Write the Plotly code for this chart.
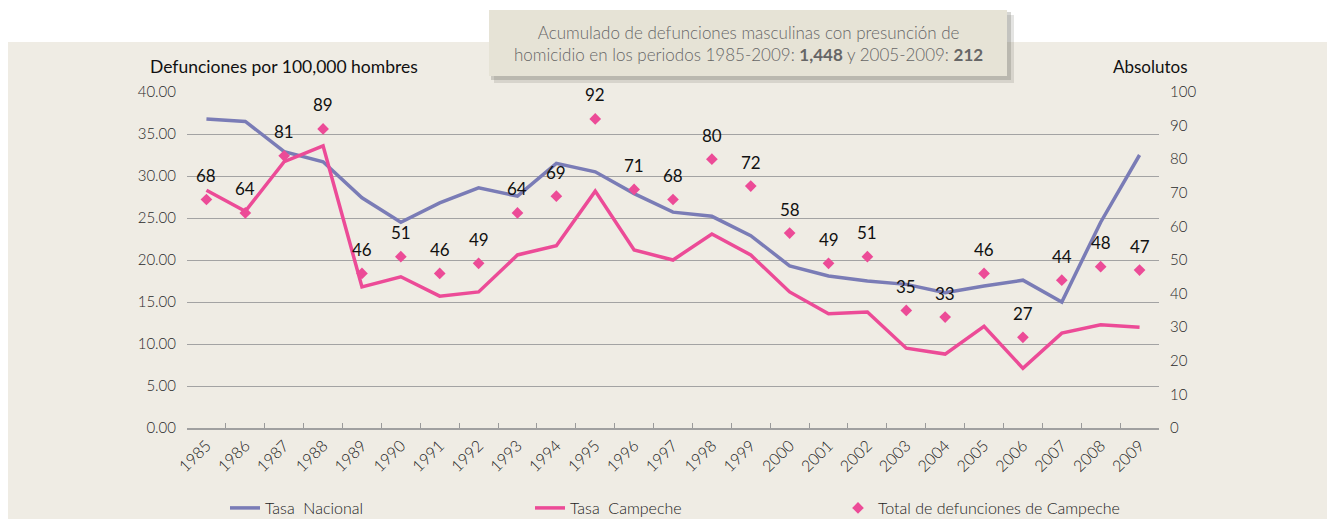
import plotly.graph_objects as go

years = [str(y) for y in range(1985, 2010)]
tasa_nacional = [36.8, 36.5, 32.9, 31.7, 27.4, 24.5, 26.8, 28.6, 27.6, 31.5, 30.5, 27.9, 25.7,
                 25.2, 22.9, 19.3, 18.1, 17.5, 17.1, 16.1, 16.9, 17.6, 15.0, 24.5, 32.5]
tasa_campeche = [28.3, 25.8, 31.7, 33.6, 16.8, 18.0, 15.7, 16.2, 20.6, 21.7, 28.2, 21.2, 20.0,
                 23.1, 20.6, 16.2, 13.6, 13.8, 9.5, 8.8, 12.1, 7.1, 11.3, 12.3, 12.0]
total_campeche = [68, 64, 81, 89, 46, 51, 46, 49, 64, 69, 92, 71, 68, 80, 72, 58, 49, 51, 35,
                  33, 46, 27, 44, 48, 47]

left_ticks = [0, 5, 10, 15, 20, 25, 30, 35, 40]
right_ticks = [0, 10, 20, 30, 40, 50, 60, 70, 80, 90, 100]

FONT = "Lato, 'Open Sans', sans-serif"
BG = "#EFECE4"
BLUE = "#7A7CB6"
PINK = "#EC4B97"

# page is rendered with an 8px body margin
OFF = 8
W, H = 1335 - OFF, 519 - OFF
L, R, T, B = 187, 1159, 92, 428  # page pixel coords of plot area


def px(x):
    return (x - L) / (R - L)


def py(y):
    return (B - y) / (B - T)


fig = go.Figure()
fig.add_trace(go.Scatter(x=years, y=tasa_nacional, mode="lines", name="Tasa  Nacional",
                         line=dict(color=BLUE, width=3.5), legend="legend"))
fig.add_trace(go.Scatter(x=years, y=tasa_campeche, mode="lines", name="Tasa  Campeche",
                         line=dict(color=PINK, width=3.5), legend="legend2"))
fig.add_trace(go.Scatter(x=years, y=total_campeche, mode="markers", yaxis="y2",
                         name="Total de defunciones de Campeche",
                         marker=dict(symbol="diamond", color=PINK, size=9), legend="legend3"))

annotations = []
for i, v in enumerate(total_campeche):
    annotations.append(dict(x=i, y=v, xref="x", yref="y2", text=str(v), showarrow=False,
                            yshift=24, font=dict(family=FONT, size=17, color="#111111")))

annotations.append(dict(x=px(148), y=py(66), xref="paper", yref="paper", xanchor="left",
                        yanchor="middle", showarrow=False, text="Defunciones por 100,000 hombres",
                        font=dict(family=FONT, size=17.5, color="#111111")))
annotations.append(dict(x=px(1190), y=py(66), xref="paper", yref="paper", xanchor="right",
                        yanchor="middle", showarrow=False, text="Absolutos",
                        font=dict(family=FONT, size=17, color="#111111")))
annotations.append(dict(x=px(748), y=py(43), xref="paper", yref="paper", xanchor="center",
                        yanchor="middle", showarrow=False, align="center",
                        text="Acumulado de defunciones masculinas con presunción de<br>"
                             "homicidio en los periodos 1985-2009: <b>1,448</b> y 2005-2009: <b>212</b>",
                        font=dict(family=FONT, size=17, color="#666666", weight=300)))

shapes = [
    dict(type="rect", xref="paper", yref="paper", x0=px(0), x1=px(1345), y0=py(42), y1=py(530),
         fillcolor=BG, line=dict(width=0), layer="below"),
    # shadow of the title box
    dict(type="rect", xref="paper", yref="paper", x0=px(494), x1=px(1014), y0=py(15), y1=py(83),
         fillcolor="rgba(120,120,110,0.2)", line=dict(width=0), layer="above"),
    dict(type="rect", xref="paper", yref="paper", x0=px(491), x1=px(1011), y0=py(12), y1=py(80),
         fillcolor="rgba(120,120,110,0.3)", line=dict(width=0), layer="above"),
    dict(type="rect", xref="paper", yref="paper", x0=px(489), x1=px(1007), y0=py(10), y1=py(76),
         fillcolor="#E6E3D6", line=dict(width=0), layer="above"),
]

legfont = dict(family=FONT, size=16, color="#222222", weight=300)

fig.update_layout(
    width=W, height=H,
    margin=dict(l=L - OFF, r=(W + OFF) - R, t=T - OFF, b=(H + OFF) - B, autoexpand=False),
    paper_bgcolor="white", plot_bgcolor=BG,
    font=dict(family=FONT, color="#333333"),
    xaxis=dict(type="category", tickson="boundaries", ticks="inside", ticklen=5,
               tickcolor="#9A9A9A", tickwidth=1, tickangle=-45, showgrid=False,
               showline=True, linecolor="#A0A0A0", linewidth=2, automargin=False,
               tickfont=dict(family=FONT, size=16, color="#222222", weight=300),
               range=[-0.5, 24.5]),
    yaxis=dict(range=[0, 40], tickvals=left_ticks, tickformat=".2f", showgrid=True,
               gridcolor="#A3A3A3", gridwidth=1, zeroline=False, showline=False,
               ticks="", ticklabelstandoff=10, automargin=False,
               tickfont=dict(family=FONT, size=15, color="#2A2A2A", weight=300)),
    yaxis2=dict(range=[0, 100], tickvals=right_ticks, overlaying="y", side="right",
                showgrid=False, zeroline=False, showline=False, ticks="", ticklabelstandoff=10,
                automargin=False,
                tickfont=dict(family=FONT, size=15, color="#2A2A2A", weight=300)),
    legend=dict(x=px(225), y=py(508), xanchor="left", yanchor="middle", orientation="h",
                bgcolor="rgba(0,0,0,0)", font=legfont),
    legend2=dict(x=px(530), y=py(508), xanchor="left", yanchor="middle", orientation="h",
                 bgcolor="rgba(0,0,0,0)", font=legfont),
    legend3=dict(x=px(838), y=py(508), xanchor="left", yanchor="middle", orientation="h",
                 bgcolor="rgba(0,0,0,0)", font=legfont),
    annotations=annotations,
    shapes=shapes,
    showlegend=True,
)

fig.write_html("out.html")
